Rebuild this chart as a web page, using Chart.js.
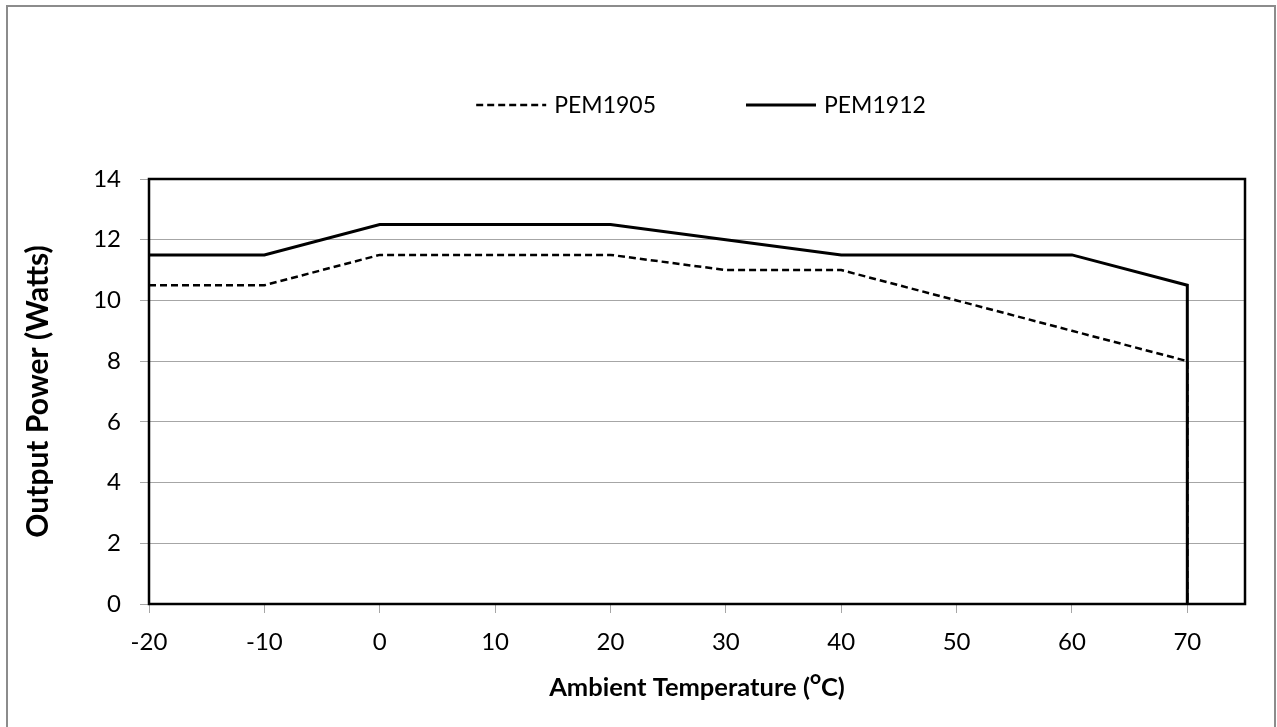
<!DOCTYPE html>
<html>
<head>
<meta charset="utf-8">
<script src="https://cdn.jsdelivr.net/npm/chart.js@4"></script>
<style>
  html, body { margin: 0; padding: 0; background: #fff; }
  #wrap { width: 1277px; height: 727px; position: relative; }
</style>
</head>
<body>
<div id="wrap"><canvas id="c"></canvas></div>
<script>
// ---- data ----
const seriesNames = ['PEM1905', 'PEM1912'];
const pem1905Temp  = [-20, -10, 0, 20, 30, 40, 50, 60, 70, 70];
const pem1905Power = [10.5, 10.5, 11.5, 11.5, 11, 11, 10, 9, 8, 0];
const pem1912Temp  = [-20, -10, 0, 20, 30, 40, 60, 70, 70];
const pem1912Power = [11.5, 11.5, 12.5, 12.5, 12, 11.5, 11.5, 10.5, 0];
const xTicks = [-20, -10, 0, 10, 20, 30, 40, 50, 60, 70];
const yTicks = [0, 2, 4, 6, 8, 10, 12, 14];
const xTitle = 'Ambient Temperature (\u1D3CC)';
const yTitle = 'Output Power (Watts)';

const FONT = 'Lato, "Open Sans", "DejaVu Sans", sans-serif';

const toPts = (xs, ys) => xs.map((x, i) => ({x: x, y: ys[i]}));

const framePlugin = {
  id: 'frame',
  beforeDraw(chart) {
    const ctx = chart.ctx;
    ctx.save();
    ctx.fillStyle = '#fff';
    ctx.fillRect(0, 0, chart.width, chart.height);
    ctx.strokeStyle = '#8c8c8c';
    ctx.lineWidth = 2;
    ctx.strokeRect(7, 6, chart.width - 9, chart.height + 20);
    ctx.restore();
  },
  afterDraw(chart) {
    const ctx = chart.ctx;
    const a = chart.chartArea;
    ctx.save();
    ctx.strokeStyle = '#000';
    ctx.lineWidth = 2.5;
    ctx.strokeRect(a.left, a.top, a.right - a.left, a.bottom - a.top);
    // legend
    ctx.font = '23px ' + FONT;
    ctx.textBaseline = 'middle';
    ctx.fillStyle = '#000';
    const lineW = 70, gapT = 8, gapItems = 90;
    const items = chart.data.datasets.map(ds => ({label: ds.label, dash: ds.borderDash || [], lw: ds.borderWidth,
      w: lineW + gapT + ctx.measureText(ds.label).width}));
    const total = items.reduce((s, it) => s + it.w, 0) + gapItems * (items.length - 1);
    let x = 701 - total / 2;
    const y = 105;
    items.forEach(it => {
      ctx.beginPath();
      ctx.setLineDash(it.dash);
      ctx.lineWidth = it.lw;
      ctx.moveTo(x, y);
      ctx.lineTo(x + lineW, y);
      ctx.stroke();
      ctx.setLineDash([]);
      ctx.fillText(it.label, x + lineW + gapT, y + 1);
      x += it.w + gapItems;
    });
    ctx.restore();
  }
};

new Chart(document.getElementById('c'), {
  type: 'scatter',
  data: {
    datasets: [
      { label: seriesNames[0], data: toPts(pem1905Temp, pem1905Power), showLine: true,
        borderColor: '#000', borderWidth: 2.5, borderDash: [7, 4], pointRadius: 0, tension: 0, fill: false },
      { label: seriesNames[1], data: toPts(pem1912Temp, pem1912Power), showLine: true,
        borderColor: '#000', borderWidth: 3, pointRadius: 0, tension: 0, fill: false }
    ]
  },
  options: {
    responsive: true,
    maintainAspectRatio: false,
    animation: false,
    layout: { padding: { top: 179, right: 32, left: 0, bottom: 0 } },
    plugins: { legend: { display: false }, tooltip: { enabled: false } },
    scales: {
      x: {
        type: 'linear', min: -20, max: 75,
        afterBuildTicks: s => { s.ticks = xTicks.map(v => ({value: v})); },
        afterFit: s => { s.height = 123; },
        ticks: { color: '#000', font: { family: FONT, size: 24 }, padding: 15, maxRotation: 0, autoSkip: false },
        grid: { drawOnChartArea: false, drawTicks: true, tickLength: 9, color: '#a6a6a6', lineWidth: 1 },
        border: { display: false },
        title: { display: true, text: xTitle, color: '#000', font: { family: FONT, size: 25.5, weight: 'bold' }, padding: { top: 0, bottom: 24 } }
      },
      y: {
        type: 'linear', min: 0, max: 14,
        afterBuildTicks: s => { s.ticks = yTicks.map(v => ({value: v})); },
        afterFit: s => { s.width = 149; },
        ticks: { color: '#000', font: { family: FONT, size: 24 }, padding: 19, autoSkip: false },
        grid: { drawOnChartArea: true, drawTicks: true, tickLength: 9, color: '#a6a6a6', lineWidth: 1 },
        border: { display: false },
        title: { display: true, text: yTitle, color: '#000', font: { family: FONT, size: 30, weight: 'bold' }, padding: { top: 20, bottom: 0 } }
      }
    }
  },
  plugins: [framePlugin]
});
</script>
</body>
</html>
